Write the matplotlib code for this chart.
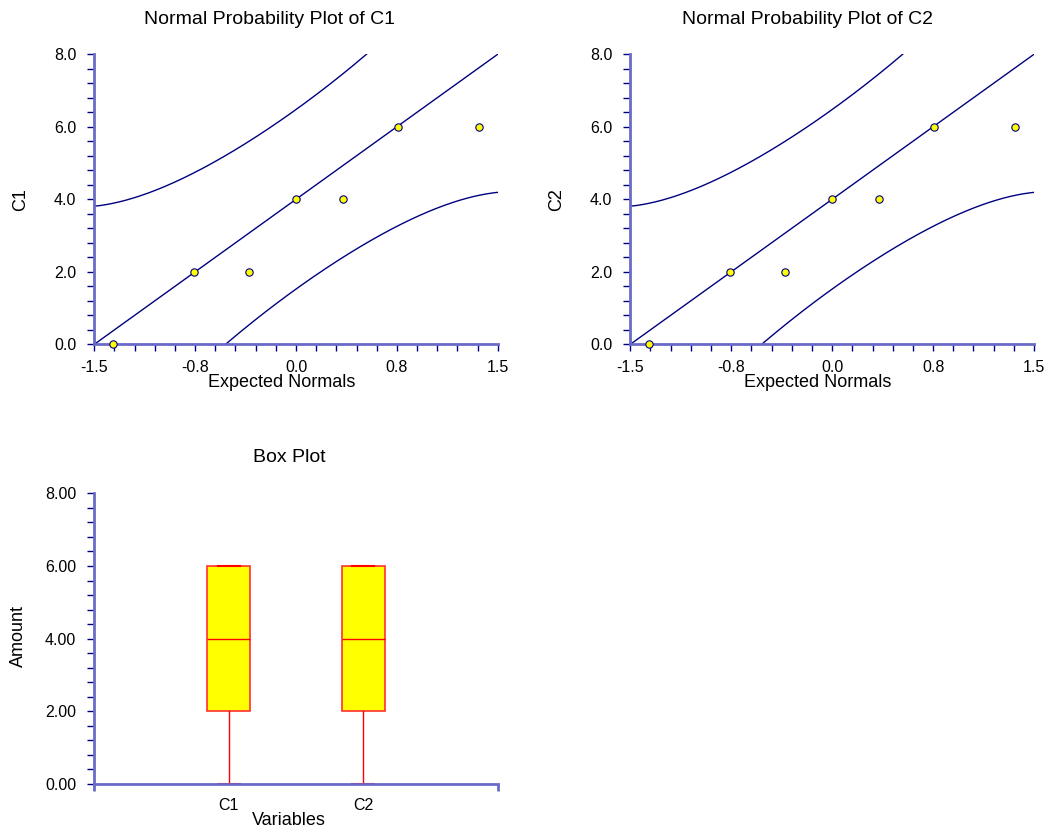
import math
import numpy as np
import matplotlib
matplotlib.use("Agg")
import matplotlib.pyplot as plt

plt.rcParams['font.family'] = ['Liberation Sans', 'DejaVu Sans']

# data for the two variables (identical columns)
expected_normals = [-1.36, -0.76, -0.35, 0.0, 0.35, 0.76, 1.36]
c1_values = [0, 2, 2, 4, 4, 6, 6]
c2_values = [0, 2, 2, 4, 4, 6, 6]

# reference line of the probability plots
line_center = 4.0
line_slope = 2.667
n_obs = 7
z_crit = 1.96

# box plot summary
box_names = ['C1', 'C2']
box_low = [0, 0]
box_q1 = [2, 2]
box_median = [4, 4]
box_q3 = [6, 6]
box_high = [6, 6]

W, H = 1048, 835
NAVY = '#000080'
SPINE = '#6a6ac8'

fig = plt.figure(figsize=(W / 100, H / 100), dpi=100)


def px_axes(x0, y0, x1, y1):
    return fig.add_axes([x0 / W, 1 - y1 / H, (x1 - x0) / W, (y1 - y0) / H])


def style_axes(ax):
    for s in ['top', 'right']:
        ax.spines[s].set_visible(False)
    for s in ['left', 'bottom']:
        ax.spines[s].set_color(SPINE)
        ax.spines[s].set_linewidth(2)
    ax.tick_params(which='both', direction='out', length=5, width=1, color=NAVY,
                   labelsize=11.5, labelcolor='black')
    ax.tick_params(axis='y', pad=8)
    ax.tick_params(axis='x', pad=6)


def phi(z):
    return np.exp(-z * z / 2) / math.sqrt(2 * math.pi)


def Phi(z):
    return 0.5 * (1 + np.vectorize(math.erf)(z / math.sqrt(2)))


def normal_plot(ax, values, name, title_x):
    style_axes(ax)
    z = np.linspace(-1.5, 1.5, 400)
    fit = line_center + line_slope * z
    p = Phi(z)
    band = z_crit * line_slope * np.sqrt(p * (1 - p) / n_obs) / phi(z)
    ax.plot(z, fit, color=NAVY, lw=1)
    ax.plot(z, fit + band, color=NAVY, lw=1)
    ax.plot(z, fit - band, color=NAVY, lw=1)
    ax.scatter(expected_normals, values, s=28, facecolor='yellow',
               edgecolor=NAVY, linewidth=0.8, zorder=5, clip_on=False)
    ax.set_xlim(-1.5, 1.5)
    ax.set_ylim(0, 8)
    ax.set_xticks([-1.5, -0.75, 0, 0.75, 1.5])
    ax.set_xticklabels(['-1.5', '-0.8', '0.0', '0.8', '1.5'])
    ax.set_xticks(np.arange(-1.5, 1.51, 0.15), minor=True)
    ax.set_yticks([0, 2, 4, 6, 8])
    ax.set_yticklabels(['0.0', '2.0', '4.0', '6.0', '8.0'])
    ax.set_yticks(np.arange(0, 8.01, 0.4), minor=True)
    ax.text(0.465, -0.13, 'Expected Normals', transform=ax.transAxes,
            ha='center', va='center', fontsize=13)
    ax.text(-74 / 403.4, 0.5, name, transform=ax.transAxes, rotation=90,
            ha='center', va='center', fontsize=13)
    fig.text(title_x / W, 1 - 19 / H, 'Normal Probability Plot of ' + name,
             ha='center', va='center', fontsize=14)


ax1 = px_axes(94.3, 54.3, 497.7, 344.3)
normal_plot(ax1, c1_values, 'C1', 270)

ax2 = px_axes(630.3, 54.3, 1034, 344.3)
normal_plot(ax2, c2_values, 'C2', 807.5)

# box plot of both variables
ax3 = px_axes(94.3, 493.3, 497.7, 784)
style_axes(ax3)
stats = []
for i, nm in enumerate(box_names):
    stats.append({'label': nm, 'whislo': box_low[i], 'q1': box_q1[i],
                  'med': box_median[i], 'q3': box_q3[i], 'whishi': box_high[i],
                  'fliers': []})
ax3.bxp(stats, positions=[1, 2], widths=0.32, capwidths=0.16, patch_artist=True,
        showfliers=False,
        boxprops=dict(facecolor='yellow', edgecolor='#ff3030', linewidth=1.2),
        medianprops=dict(color='red', linewidth=1),
        whiskerprops=dict(color='red', linewidth=1),
        capprops=dict(color='red', linewidth=1.5))
ax3.set_xlim(0, 3)
ax3.set_ylim(0, 8)
ax3.set_xticks([1, 2])
ax3.set_xticklabels(box_names)
ax3.set_xticks([0, 3], minor=True)
ax3.tick_params(axis='x', which='major', length=0, pad=10)
ax3.tick_params(axis='x', which='minor', color=SPINE, width=2)
ax3.set_yticks([0, 2, 4, 6, 8])
ax3.set_yticklabels(['0.00', '2.00', '4.00', '6.00', '8.00'])
ax3.set_yticks(np.arange(0, 8.01, 0.4), minor=True)
ax3.text(0.483, -0.124, 'Variables', transform=ax3.transAxes,
         ha='center', va='center', fontsize=13)
ax3.text(-76 / 403.4, 0.51, 'Amount', transform=ax3.transAxes, rotation=90,
         ha='center', va='center', fontsize=13)
fig.text(289 / W, 1 - 457 / H, 'Box Plot', ha='center', va='center', fontsize=14)

fig.savefig('out.png', dpi=100)
